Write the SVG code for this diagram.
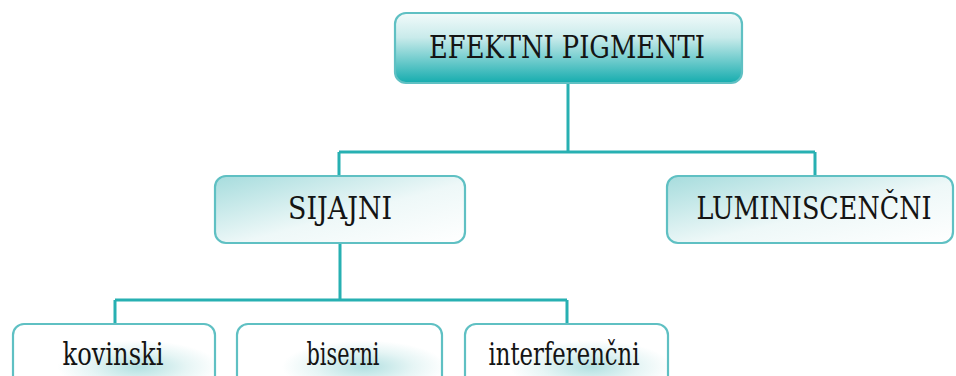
<svg xmlns="http://www.w3.org/2000/svg" width="956" height="376" viewBox="0 0 956 376">
<defs>
<linearGradient id="gTop" x1="0" y1="0" x2="0" y2="1">
<stop offset="0" stop-color="#f2fafa"/>
<stop offset="0.35" stop-color="#c9ebeb"/>
<stop offset="1" stop-color="#15acae"/>
</linearGradient>
<linearGradient id="gMid" x1="0" y1="0" x2="1" y2="1">
<stop offset="0" stop-color="#a6dcdd"/>
<stop offset="0.55" stop-color="#eef8f8"/>
<stop offset="1" stop-color="#ffffff"/>
</linearGradient>
<radialGradient id="gBot" cx="0.62" cy="0.65" r="0.4">
<stop offset="0" stop-color="#b2e0e1"/>
<stop offset="0.6" stop-color="#e6f5f5"/>
<stop offset="1" stop-color="#ffffff"/>
</radialGradient>
<style>
.box{stroke:#5fc0c3;stroke-width:2.2}
.line{fill:none;stroke:#27b0b2;stroke-width:3}
.t{fill:#141414;text-anchor:middle;font-family:'DejaVu Serif','Liberation Serif',serif;font-size:27px}
</style>
</defs>
<rect width="956" height="376" fill="#ffffff"/>
<g id="connectors">
<path class="line" d="M568 83 V152 M339 152 H815 M339 152 V176 M815 152 V176"/>
<path class="line" d="M340 243 V300 M115 300 H567 M115 300 V324 M567 300 V324"/>
</g>
<g id="n-efektni">
<rect class="box" x="395" y="13" width="347" height="70" rx="11" fill="url(#gTop)"/>
<text class="t" x="567" y="58" textLength="276" lengthAdjust="spacingAndGlyphs" transform="translate(0 58) scale(1 1.15) translate(0 -58)">EFEKTNI PIGMENTI</text>
</g>
<g id="n-sijajni">
<rect class="box" x="215" y="176" width="250" height="67" rx="11" fill="url(#gMid)"/>
<text class="t" x="340" y="219" textLength="104" lengthAdjust="spacingAndGlyphs" transform="translate(0 219) scale(1 1.15) translate(0 -219)">SIJAJNI</text>
</g>
<g id="n-lumin">
<rect class="box" x="667" y="176" width="286" height="67" rx="11" fill="url(#gMid)"/>
<text class="t" x="814" y="219" textLength="235" lengthAdjust="spacingAndGlyphs" transform="translate(0 219) scale(1 1.15) translate(0 -219)">LUMINISCENČNI</text>
</g>
<g id="n-kovinski">
<rect class="box" x="13" y="324" width="202" height="66" rx="11" fill="url(#gBot)"/>
<text class="t" x="113" y="365" textLength="101" lengthAdjust="spacingAndGlyphs" transform="translate(0 365) scale(1 1.15) translate(0 -365)">kovinski</text>
</g>
<g id="n-biserni">
<rect class="box" x="237" y="324" width="205" height="66" rx="11" fill="url(#gBot)"/>
<text class="t" x="343" y="365" textLength="73" lengthAdjust="spacingAndGlyphs" transform="translate(0 365) scale(1 1.15) translate(0 -365)">biserni</text>
</g>
<g id="n-interf">
<rect class="box" x="465" y="324" width="203" height="66" rx="11" fill="url(#gBot)"/>
<text class="t" x="564" y="365" textLength="151" lengthAdjust="spacingAndGlyphs" transform="translate(0 365) scale(1 1.15) translate(0 -365)">interferenčni</text>
</g>
</svg>
